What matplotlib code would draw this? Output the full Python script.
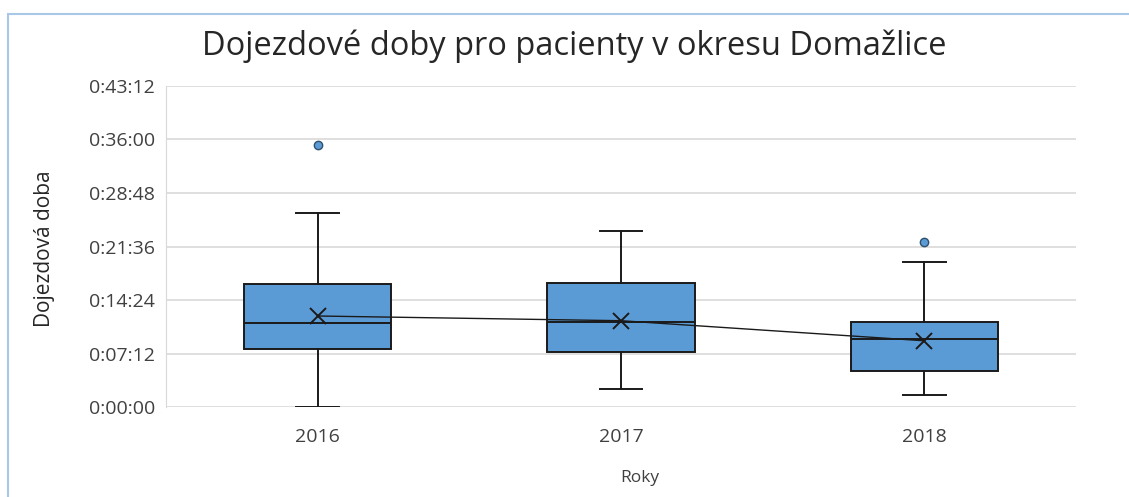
import matplotlib.pyplot as plt
from matplotlib.patches import Rectangle
from matplotlib.ticker import FuncFormatter, MultipleLocator

# values, in seconds
years = ['2016', '2017', '2018']
whisker_low = [0, 143, 97]
q1 = [468, 444, 293]
median = [676, 686, 552]
q3 = [991, 1004, 686]
whisker_high = [1569, 1421, 1168]
mean = [735, 697, 535]
outliers = [[2116], [], [1335]]

box_color = '#5b9bd5'
font = ['Open Sans', 'DejaVu Sans']
plt.rcParams['font.family'] = font


def hms(x, pos=None):
    s = int(round(x))
    return '%d:%02d:%02d' % (s // 3600, (s % 3600) // 60, s % 60)


fig = plt.figure(figsize=(11.29, 4.97), dpi=100)
ax = fig.add_axes([0.147, 0.181, 0.806, 0.646])

#build the stats for bxp
stats = []
for i in range(len(years)):
    stats.append({'label': years[i], 'whislo': whisker_low[i], 'q1': q1[i],
                  'med': median[i], 'q3': q3[i], 'whishi': whisker_high[i],
                  'mean': mean[i], 'fliers': outliers[i]})

pos = list(range(len(years)))
ax.bxp(stats, positions=pos, widths=0.485, patch_artist=True, showmeans=False,
       capwidths=0.14,
       boxprops=dict(facecolor=box_color, edgecolor='#1a1a1a', linewidth=1.4),
       medianprops=dict(color='#1a1a1a', linewidth=1.4),
       whiskerprops=dict(color='#1a1a1a', linewidth=1.4),
       capprops=dict(color='#1a1a1a', linewidth=1.4),
       flierprops=dict(marker='o', markersize=6, markerfacecolor=box_color,
                       markeredgecolor='#2f4f6f', markeredgewidth=1.0))
ax.plot(pos, mean, color='#1a1a1a', linewidth=1.0, marker='x', markersize=11,
        markeredgewidth=1.4, zorder=5)

ax.set_xlim(-0.5, 2.5)
ax.set_ylim(0, 2592)
ax.yaxis.set_major_locator(MultipleLocator(432))
ax.yaxis.set_major_formatter(FuncFormatter(hms))
ax.grid(True, axis='y', color='#d9d9d9', linewidth=1.2)
ax.set_axisbelow(True)
for s in ['top', 'right', 'bottom']:
    ax.spines[s].set_visible(False)
ax.spines['left'].set_color('#d9d9d9')
ax.tick_params(axis='x', length=0, labelsize=14, colors='#404040', pad=15)
ax.tick_params(axis='y', length=0, labelsize=14, colors='#404040', pad=8)

fig.text(0.509, 0.907, 'Dojezdové doby pro pacienty v okresu Domažlice',
         ha='center', va='center', fontsize=23.5, color='#262626')
fig.text(0.039, 0.50, 'Dojezdová doba', rotation=90, ha='center',
         va='center', fontsize=15, color='#262626')
fig.text(0.567, 0.038, 'Roky', ha='center', va='center', fontsize=12.5,
         color='#404040')

#light blue chart frame
fig.patches.append(Rectangle((8 / 1129, -0.1), 1.2, 1.1 - 14 / 497,
                             transform=fig.transFigure, fill=False,
                             edgecolor='#a9c8e8', linewidth=1.5))

fig.savefig('out.png', dpi=100, facecolor='white')
